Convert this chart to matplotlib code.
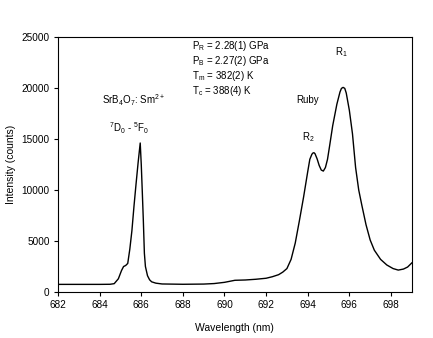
import matplotlib
matplotlib.use("Agg")
import matplotlib.pyplot as plt

plt.rcParams['font.family'] = ['Liberation Sans', 'DejaVu Sans']
plt.rcParams['mathtext.fontset'] = 'custom'
plt.rcParams['mathtext.rm'] = 'Liberation Sans'
plt.rcParams['mathtext.it'] = 'Liberation Sans'
plt.rcParams['mathtext.default'] = 'regular'

# spectrum
wavelength = [682.0, 683.0, 684.0, 684.5, 684.7, 684.9, 685.05, 685.15, 685.25, 685.35,
              685.45, 685.55, 685.65, 685.75, 685.85, 685.95, 686.0, 686.05, 686.1, 686.15,
              686.2, 686.3, 686.4, 686.5, 686.7, 687.0, 688.0, 689.0, 689.5,
              690.0, 690.5, 691.0, 691.5, 692.0, 692.3, 692.6, 692.8, 693.0, 693.2,
              693.4, 693.6, 693.8, 694.0, 694.1, 694.2, 694.25, 694.3, 694.35, 694.45,
              694.55, 694.65, 694.75, 694.85, 694.95, 695.05, 695.2, 695.4, 695.55, 695.62,
              695.7, 695.78, 695.85, 696.0, 696.15, 696.3, 696.45, 696.6, 696.8, 697.0,
              697.2, 697.5, 697.8, 698.1, 698.35, 698.6, 698.8, 699.0]
intensity = [750, 750, 750, 760, 820, 1300, 2100, 2500, 2600, 2800,
             4200, 6000, 8400, 10600, 12700, 14600, 12500, 9800, 7000, 3800,
             2500, 1600, 1200, 1000, 870, 790, 760, 780, 830,
             950, 1150, 1180, 1250, 1350, 1500, 1700, 1950, 2300, 3200,
             4800, 7000, 9300, 11800, 13000, 13500, 13620, 13650, 13550, 13050,
             12400, 11950, 11850, 12200, 13000, 14300, 16300, 18400, 19600, 19950,
             20050, 19950, 19500, 17800, 15500, 12200, 10000, 8500, 6600, 5100,
             4100, 3200, 2650, 2300, 2150, 2250, 2450, 2850]

xticks = [682, 684, 686, 688, 690, 692, 694, 696, 698]
yticks = [0, 5000, 10000, 15000, 20000, 25000]

params = [r'P$_R$ = 2.28(1) GPa', r'P$_B$ = 2.27(2) GPa',
          r'T$_m$ = 382(2) K', r'T$_c$ = 388(4) K']

fig = plt.figure(figsize=(4.33, 3.38), dpi=100)
ax = fig.add_axes([0.134, 0.136, 0.817, 0.755])

ax.plot(wavelength, intensity, color='black', lw=1.0)

ax.set_xlim(682, 699)
ax.set_ylim(0, 25000)
ax.set_xticks(xticks)
ax.set_yticks(yticks)
ax.tick_params(direction='out', length=3, width=0.8, pad=3, labelsize=7.2)
for s in ax.spines.values():
    s.set_linewidth(0.8)

ax.set_xlabel('Wavelength (nm)', fontsize=7.5, labelpad=9)
ax.set_ylabel('Intensity (counts)', fontsize=7.5, labelpad=4)

ax.text(685.62, 18820, r'SrB$_4$O$_7$: Sm$^{2+}$', fontsize=7, ha='center', va='center')
ax.text(685.4, 16080, r'$^7$D$_0$ - $^5$F$_0$', fontsize=7, ha='center', va='center')
ax.text(694.0, 18820, 'Ruby', fontsize=7, ha='center', va='center')
ax.text(694.03, 15200, r'R$_2$', fontsize=7, ha='center', va='center')
ax.text(695.62, 23530, r'R$_1$', fontsize=7, ha='center', va='center')

for i, s in enumerate(params):
    ax.text(688.43, 24150 - i * 1480, s, fontsize=7, ha='left', va='center')

fig.savefig('out.png', dpi=100)
